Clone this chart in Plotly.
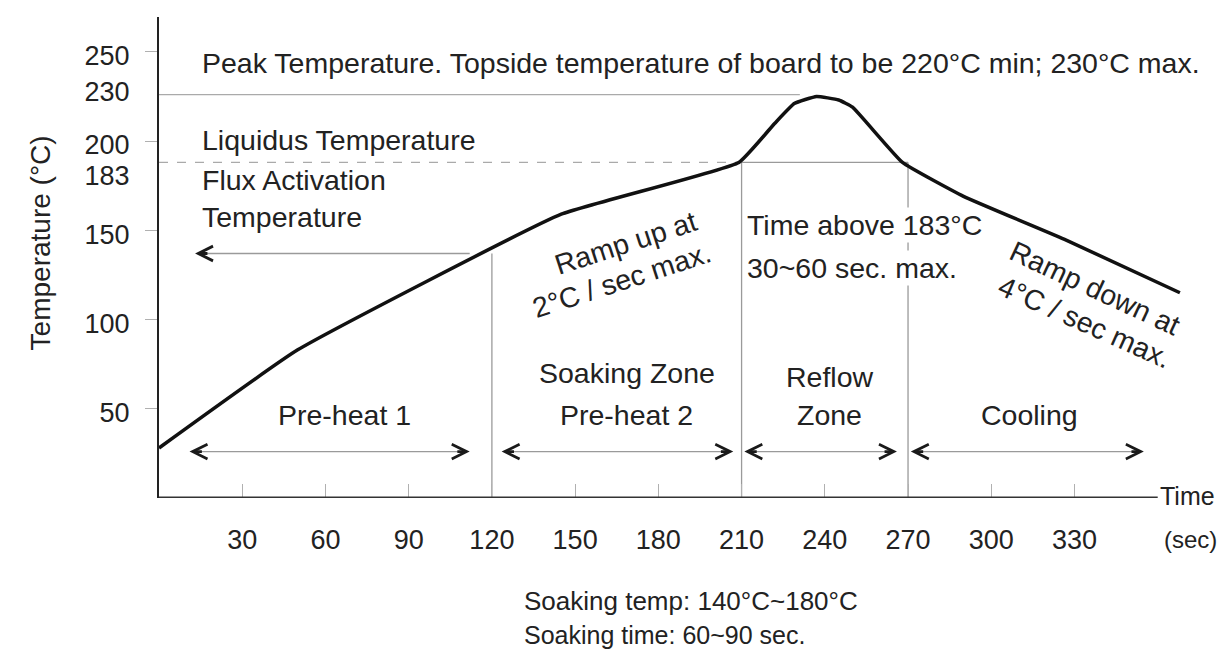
import plotly.graph_objects as go

# ---- data ----
time_s = [0, 50, 145, 209, 222, 229, 237, 245, 250, 268, 290, 327, 368]
temp_c = [28, 83, 159, 188, 210, 221, 225, 223, 219, 188, 169, 144.5, 115]

x_ticks = [30, 60, 90, 120, 150, 180, 210, 240, 270, 300, 330]
y_ticks = [50, 100, 150, 183, 200, 230, 250]
y_tick_marks = [50, 100, 150, 200, 250]

zone_bounds = [120, 210, 270]          # vertical separators (sec)
peak_line_temp = 226                    # drawn peak-temperature guide
liquidus_line_temp = 188                # drawn 183 °C guide
soak_arrow_temp = 137
x_axis_end = 360

zone_arrows = [(11, 112), (123.5, 207), (211, 266), (271, 355)]
zone_arrow_temp = 26

FONT = "Liberation Sans, Arial, Helvetica, sans-serif"
TXT = "#222222"
GRID = "#9a9a9a"
FS = 28.5

fig = go.Figure()
fig.add_trace(go.Scatter(x=time_s, y=temp_c, mode="lines",
                         line=dict(color="#111111", width=3.5, shape="spline", smoothing=0.35),
                         hoverinfo="skip", showlegend=False))

shapes = []
# x axis line
shapes.append(dict(type="line", x0=0, x1=x_axis_end, y0=0, y1=0,
                   line=dict(color="#333333", width=3), layer="above"))
# zone separators
shapes.append(dict(type="line", x0=zone_bounds[0], x1=zone_bounds[0], y0=0, y1=soak_arrow_temp,
                   line=dict(color=GRID, width=1.3)))
for xb in zone_bounds[1:]:
    shapes.append(dict(type="line", x0=xb, x1=xb, y0=0, y1=liquidus_line_temp,
                       line=dict(color=GRID, width=1.3)))
# peak guide
shapes.append(dict(type="line", x0=0, x1=231, y0=peak_line_temp, y1=peak_line_temp,
                   line=dict(color="#aaaaaa", width=1.2)))
# liquidus guide
shapes.append(dict(type="line", x0=0, x1=zone_bounds[1], y0=liquidus_line_temp, y1=liquidus_line_temp,
                   line=dict(color="#aaaaaa", width=1.2, dash="dash")))
shapes.append(dict(type="line", x0=zone_bounds[1], x1=zone_bounds[2], y0=liquidus_line_temp,
                   y1=liquidus_line_temp, line=dict(color=GRID, width=1.3)))
# zone arrow shafts
for a, b in zone_arrows:
    shapes.append(dict(type="line", x0=a + 2, x1=b - 2, y0=zone_arrow_temp, y1=zone_arrow_temp,
                       line=dict(color=GRID, width=1.3)))
# soak temp arrow shaft
shapes.append(dict(type="line", x0=14, x1=112, y0=soak_arrow_temp, y1=soak_arrow_temp,
                   line=dict(color=GRID, width=1.3)))
for s in shapes:
    s.setdefault("xref", "x")
    s.setdefault("yref", "y")
    s.setdefault("layer", "below")

ann = []


def head(x, y, direction):
    ann.append(dict(x=x, y=y, ax=x - direction * 5, ay=y, xref="x", yref="y",
                    axref="x", ayref="y", text="", showarrow=True, arrowhead=5,
                    arrowsize=1.0, arrowwidth=2.9, arrowcolor="#1a1a1a",
                    font=dict(size=1)))


for a, b in zone_arrows:
    head(a, zone_arrow_temp, -1)
    head(b, zone_arrow_temp, 1)
head(13, soak_arrow_temp, -1)


def txt(text, x, y, size=FS, xanchor="center", angle=0, bg=None, ref="x"):
    d = dict(text=text, x=x, y=y, xref=ref, yref=("y" if ref == "x" else "paper"),
             showarrow=False, xanchor=xanchor, yanchor="middle", textangle=angle,
             font=dict(family=FONT, size=size, color=TXT))
    if bg:
        d["bgcolor"] = bg
    ann.append(d)


txt("Peak Temperature. Topside temperature of board to be 220°C min; 230°C max.", 14.8, 243.7, xanchor="left")
txt("Liquidus Temperature", 14.8, 200.6, xanchor="left")
txt("Flux Activation", 14.8, 178, xanchor="left")
txt("Temperature", 14.8, 157.4, xanchor="left")
txt("Ramp up at", 168, 143, angle=-18)
txt("2°C / sec max.", 167, 122, angle=-18)
txt("Time above 183°C", 211.2, 153, xanchor="left", bg="white")
txt("30~60 sec. max.", 211.2, 128.8, xanchor="left", bg="white")
txt("Ramp down at", 337.3, 117.6, angle=25)
txt("4°C / sec max.", 333.7, 98.6, angle=24)
txt("Pre-heat 1", 67, 46.5)
txt("Soaking Zone", 168.6, 70)
txt("Pre-heat 2", 168.6, 46.5)
txt("Reflow", 241.8, 67.8)
txt("Zone", 241.8, 46.5)
txt("Cooling", 313.9, 46.5)
txt("Time", 0.968, 0.004, size=25, xanchor="left", ref="paper")
txt("(sec)", 1.0275, -0.0873, size=24, xanchor="right", ref="paper")
txt("Soaking temp: 140°C~180°C", 0.3517, -0.214, size=26, xanchor="left", ref="paper")
txt("Soaking time: 60~90 sec.", 0.3517, -0.2848, size=25, xanchor="left", ref="paper")
ann.append(dict(text="Temperature (°C)", xref="paper", yref="paper", x=-0.115, y=0.53,
                showarrow=False, textangle=-90, xanchor="center", yanchor="middle",
                font=dict(family=FONT, size=28, color=TXT)))

fig.update_layout(
    width=1220, height=651,
    margin=dict(l=159, r=29, t=17, b=153),
    paper_bgcolor="white", plot_bgcolor="white",
    shapes=shapes, annotations=ann,
    xaxis=dict(range=[0, 372], showgrid=False, zeroline=False, showline=False,
               tickvals=x_ticks, ticktext=[str(v) for v in x_ticks],
               ticks="inside", ticklen=14, tickcolor="#b0b0b0", tickwidth=1.2,
               ticklabelstandoff=23,
               tickfont=dict(family=FONT, size=27, color=TXT)),
    yaxis=dict(range=[0, 269.5], showgrid=False, zeroline=False, showline=True,
               linecolor="#222222", linewidth=2.2,
               tickvals=y_ticks, ticktext=[str(v) for v in y_ticks], ticks="",
               ticklabelstandoff=22, ticklabelshift=4,
               minor=dict(tickvals=y_tick_marks, ticks="outside", ticklen=12,
                          tickcolor="#b0b0b0", tickwidth=1.2),
               tickfont=dict(family=FONT, size=27, color=TXT)),
)

fig.write_html("out.html", config={"displayModeBar": False},
               post_script="document.body.style.margin='0';")
